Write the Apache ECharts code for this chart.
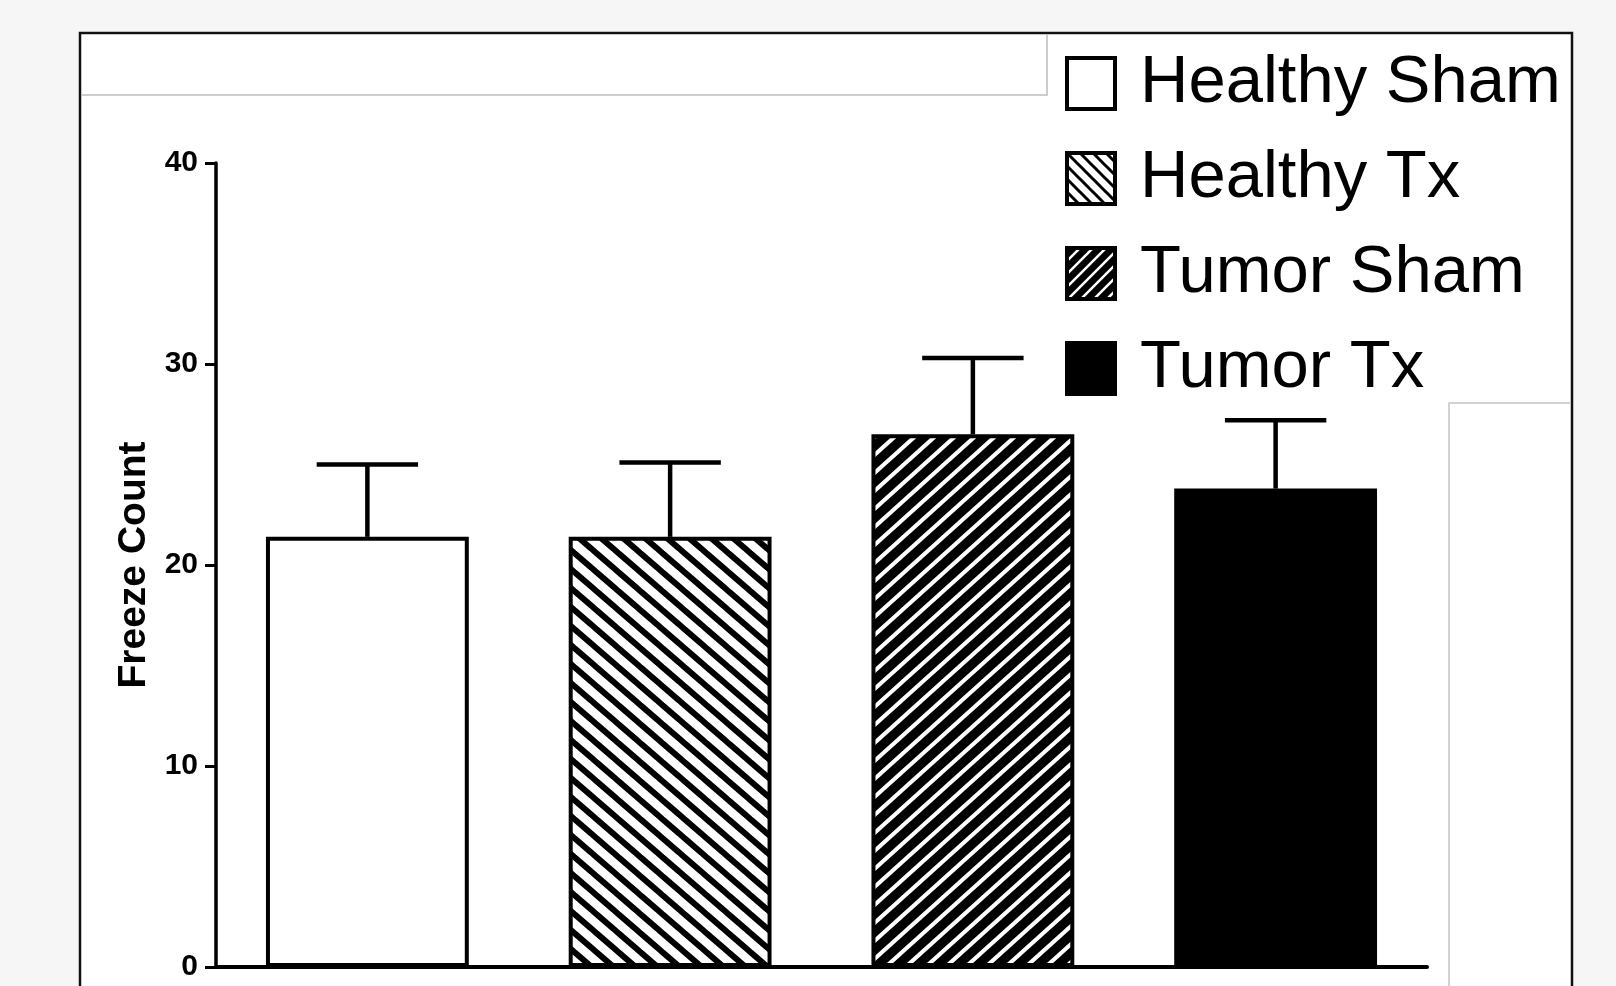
<!DOCTYPE html>
<html>
<head>
<meta charset="utf-8">
<script src="https://cdn.jsdelivr.net/npm/echarts@6/dist/echarts.min.js"></script>
<style>
  html, body { margin: 0; padding: 0; background: #f6f6f6; }
  #chart { width: 1616px; height: 986px; }
</style>
</head>
<body>
<div id="chart"></div>
<script>
// Group names, mean freeze counts and upper SEM whiskers
const groups = ['Healthy Sham', 'Healthy Tx', 'Tumor Sham', 'Tumor Tx'];
const means = [21.4, 21.4, 26.5, 23.8];
const sem = [3.6, 3.7, 3.8, 3.4];
const yTicks = [0, 10, 20, 30, 40];

const FONT = '"Liberation Sans", Arial, Helvetica, sans-serif';

// Diagonal hatch tile: 'down' = top-left to bottom-right, 'up' = bottom-left to top-right
function hatch(dir, pw, ph, lineW, bg, fg) {
  const c = document.createElement('canvas');
  c.width = pw; c.height = ph;
  const g = c.getContext('2d');
  g.fillStyle = bg; g.fillRect(0, 0, pw, ph);
  g.strokeStyle = fg; g.lineWidth = lineW; g.lineCap = 'square';
  for (const o of [-pw, 0, pw]) {
    g.beginPath();
    if (dir === 'down') { g.moveTo(o, 0); g.lineTo(o + pw, ph); }
    else { g.moveTo(o, ph); g.lineTo(o + pw, 0); }
    g.stroke();
  }
  return { image: c, repeat: 'repeat' };
}

const fills = [
  '#ffffff',
  hatch('down', 22, 19, 6, '#ffffff', '#000000'),
  hatch('up', 20, 18, 4, '#000000', '#ffffff'),
  '#000000'
];
const legendFills = [
  '#ffffff',
  hatch('down', 13, 13, 3, '#ffffff', '#000000'),
  hatch('up', 13, 13, 2.5, '#000000', '#ffffff'),
  '#000000'
];

const barSeries = groups.map((name, i) => ({
  name: name,
  type: 'bar',
  barWidth: '67%',
  barGap: '-100%',
  data: groups.map((_, j) => (j === i ? means[i] : '-')),
  itemStyle: { color: fills[i], borderColor: '#000', borderWidth: 4 },
  emphasis: { disabled: true },
  z: 3
}));

const errData = groups.map((_, i) => [i, means[i], means[i] + sem[i]]);

const errorSeries = {
  type: 'custom',
  name: 'sem',
  data: errData,
  z: 2,
  silent: true,
  renderItem: function (params, api) {
    const base = api.coord([api.value(0), api.value(1)]);
    const top = api.coord([api.value(0), api.value(2)]);
    const half = api.size([1, 0])[0] * 0.67 / 4;
    const st = { stroke: '#000', lineWidth: 4.5 };
    return {
      type: 'group',
      children: [
        { type: 'line', shape: { x1: base[0], y1: base[1], x2: top[0], y2: top[1] }, style: st },
        { type: 'line', shape: { x1: top[0] - half, y1: top[1], x2: top[0] + half, y2: top[1] }, style: st }
      ]
    };
  }
};

const chart = echarts.init(document.getElementById('chart'), null, { renderer: 'canvas' });
chart.setOption({
  backgroundColor: 'transparent',
  animation: false,
  textStyle: { fontFamily: FONT },
  graphic: {
    elements: [
      { type: 'rect', z: -10, shape: { x: 80, y: 33, width: 1492, height: 1000 },
        style: { fill: '#ffffff', stroke: '#111', lineWidth: 2.5 } },
      { type: 'polyline', z: -9, shape: { points: [[81, 95], [1047, 95], [1047, 34]] },
        style: { fill: null, stroke: '#bdbdbd', lineWidth: 1.5 } },
      { type: 'polyline', z: -9, shape: { points: [[1449, 1000], [1449, 403], [1570, 403]] },
        style: { fill: null, stroke: '#c4c4c4', lineWidth: 1.5 } }
    ]
  },
  grid: { left: 216, right: 189, top: 163, bottom: 19, containLabel: false },
  legend: {
    orient: 'vertical',
    left: 1060,
    top: 45,
    icon: 'rect',
    itemWidth: 48,
    itemHeight: 51,
    itemGap: 28,
    selectedMode: false,
    textStyle: { fontSize: 67, color: '#000', fontFamily: FONT, padding: [0, 0, 0, 20] },
    data: groups.map((name, i) => ({
      name: name,
      itemStyle: { color: legendFills[i], borderColor: '#000', borderWidth: 4 }
    }))
  },
  xAxis: {
    type: 'category',
    data: groups,
    axisLine: { lineStyle: { color: '#000', width: 4 } },
    axisTick: { show: false },
    axisLabel: { show: false },
    splitLine: { show: false }
  },
  yAxis: {
    type: 'value',
    min: yTicks[0],
    max: yTicks[yTicks.length - 1],
    interval: 10,
    name: 'Freeze Count',
    nameLocation: 'middle',
    nameGap: 58,
    nameTextStyle: { fontSize: 39, fontWeight: 'bold', color: '#000', fontFamily: FONT },
    axisLine: { show: true, lineStyle: { color: '#000', width: 3.5 } },
    axisTick: { show: true, length: 11, lineStyle: { color: '#000', width: 3 } },
    axisLabel: { fontSize: 30, fontWeight: 'bold', color: '#000', margin: 18, fontFamily: FONT },
    splitLine: { show: false }
  },
  series: barSeries.concat([errorSeries])
});
</script>
</body>
</html>
